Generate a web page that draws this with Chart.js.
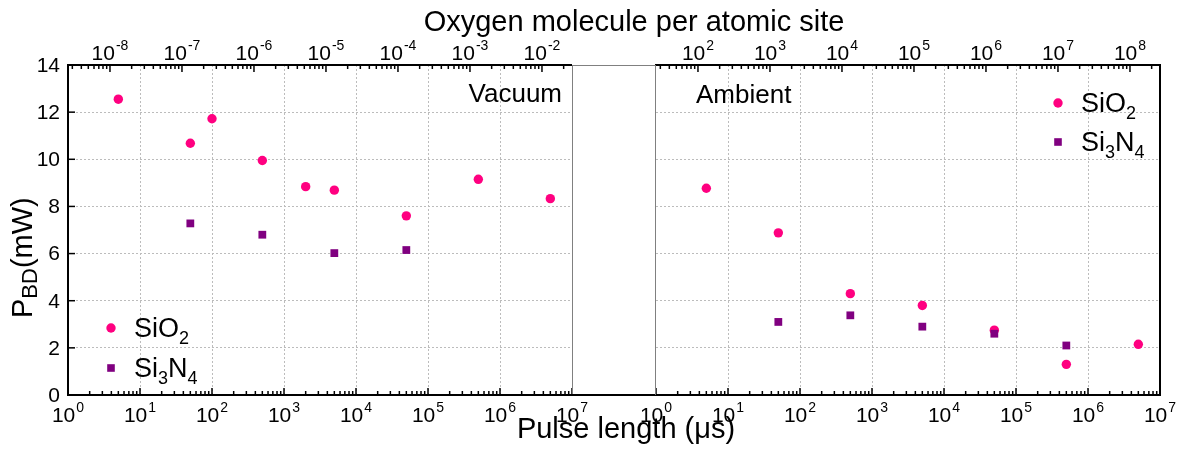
<!DOCTYPE html>
<html>
<head>
<meta charset="utf-8">
<title>Breakdown power vs pulse length</title>
<script src="https://cdn.jsdelivr.net/npm/chart.js@4.4.1/dist/chart.umd.min.js"></script>
<style>
  html, body { margin: 0; padding: 0; background: #fff; }
  #wrap { position: relative; width: 1182px; height: 449px; }
  #wrap canvas { position: absolute; left: 0; top: 0; }
</style>
</head>
<body>
<div id="wrap">
  <canvas id="vacuum" width="1182" height="449"></canvas>
  <canvas id="ambient" width="1182" height="449"></canvas>
</div>
<script>
// Data (pulse length in µs, breakdown power in mW)
const vacPulseSiO2 = [5, 50, 100, 500, 2000, 5000, 5e4, 5e5, 5e6];
const vacSiO2 = [12.55, 10.68, 11.72, 9.95, 8.84, 8.69, 7.6, 9.15, 8.33];
const vacPulseSi3N4 = [50, 500, 5000, 5e4];
const vacSi3N4 = [7.28, 6.8, 6.02, 6.15];

const ambPulseSiO2 = [5, 50, 500, 5000, 5e4, 5e5, 5e6];
const ambSiO2 = [8.77, 6.88, 4.3, 3.8, 2.75, 1.3, 2.15];
const ambPulseSi3N4 = [50, 500, 5000, 5e4, 5e5];
const ambSi3N4 = [3.1, 3.38, 2.9, 2.6, 2.1];

// Axes
const pulseExp = [0, 1, 2, 3, 4, 5, 6, 7];
const vacTopExp = [-8, -7, -6, -5, -4, -3, -2];
const ambTopExp = [2, 3, 4, 5, 6, 7, 8];
const vacTopRange = [-8.583, -1.583];   // log10 of oxygen axis ends
const ambTopRange = [1.417, 8.417];
const yTicks = [0, 2, 4, 6, 8, 10, 12, 14];

const FONT = '"Liberation Sans", Arial, sans-serif';
const PINK = '#ff0080';
const PURPLE = '#800080';
const GRID = '#bcbcbc';
const W = 1182, H = 449, TOP = 65, BOTTOM = 395;

// draw "10" with a raised exponent centred on x
function drawPow(ctx, x, base, exp) {
  const e = String(exp);
  ctx.font = '21px ' + FONT;
  const w1 = ctx.measureText('10').width;
  ctx.font = '14px ' + FONT;
  const w2 = ctx.measureText(e).width;
  const x0 = x - (w1 + w2 + 1) / 2;
  ctx.textAlign = 'left';
  ctx.textBaseline = 'alphabetic';
  ctx.font = '21px ' + FONT;
  ctx.fillText('10', x0, base);
  ctx.font = '14px ' + FONT;
  ctx.fillText(e, x0 + w1 + 1, base - 10);
}

// text with subscripts: parts = [[text, isSub], ...]
function drawRich(ctx, parts, x, base, size, subSize, subDrop) {
  ctx.textAlign = 'left';
  ctx.textBaseline = 'alphabetic';
  let cx = x;
  parts.forEach(([t, sub]) => {
    ctx.font = (sub ? subSize : size) + 'px ' + FONT;
    ctx.fillText(t, cx, sub ? base + subDrop : base);
    cx += ctx.measureText(t).width;
  });
}

function hline(ctx, x1, x2, y, color, width) {
  ctx.strokeStyle = color; ctx.lineWidth = width;
  ctx.beginPath(); ctx.moveTo(x1, y); ctx.lineTo(x2, y); ctx.stroke();
}
function vline(ctx, x, y1, y2, color, width) {
  ctx.strokeStyle = color; ctx.lineWidth = width;
  ctx.beginPath(); ctx.moveTo(x, y1); ctx.lineTo(x, y2); ctx.stroke();
}

// major + minor log ticks, pointing into the plot
function logTicks(ctx, scale, lo, hi, y, dir) {
  ctx.strokeStyle = '#000';
  ctx.lineWidth = 1.5;
  for (let k = Math.floor(lo); k <= Math.ceil(hi); k++) {
    for (let m = 1; m <= 9; m++) {
      const v = m * Math.pow(10, k);
      const lv = Math.log10(v);
      if (lv < lo - 1e-9 || lv > hi + 1e-9) continue;
      const px = scale.getPixelForValue(v);
      const len = m === 1 ? 7 : 4;
      ctx.beginPath(); ctx.moveTo(px, y); ctx.lineTo(px, y + dir * len); ctx.stroke();
    }
  }
}

function legend(ctx, x, y1, y2) {
  ctx.fillStyle = PINK;
  ctx.beginPath(); ctx.arc(x, y1, 4.7, 0, Math.PI * 2); ctx.fill();
  ctx.fillStyle = PURPLE;
  ctx.fillRect(x - 3.8, y2 - 3.8, 7.6, 7.6);
  ctx.fillStyle = '#000';
  drawRich(ctx, [['SiO', false], ['2', true]], x + 23, y1 + 9, 27, 18, 7);
  drawRich(ctx, [['Si', false], ['3', true], ['N', false], ['4', true]], x + 23, y2 + 9, 27, 18, 7);
}

function panelPlugin(name, topExp, topRange, isLeft) {
  return {
    id: 'panel_' + name,
    afterDraw(chart) {
      const ctx = chart.ctx;
      const a = chart.chartArea;
      const sx = chart.scales.x, st = chart.scales.x2, sy = chart.scales.y;
      ctx.save();

      // ticks
      logTicks(ctx, sx, 0, 7, a.bottom, -1);
      logTicks(ctx, st, topRange[0], topRange[1], a.top, 1);
      if (isLeft) {
        ctx.lineWidth = 1.5;
        yTicks.forEach(v => {
          const py = sy.getPixelForValue(v);
          ctx.beginPath(); ctx.moveTo(a.left, py); ctx.lineTo(a.left + 7, py); ctx.stroke();
        });
      }

      // frame
      hline(ctx, a.left - 1, a.right, a.top, '#000', 2);
      hline(ctx, a.left - 1, a.right, a.bottom, '#000', 2);
      if (isLeft) {
        vline(ctx, a.left, a.top, a.bottom + 1, '#000', 2);
        vline(ctx, a.right + 0.5, a.top, a.bottom, '#808080', 1);
      } else {
        vline(ctx, a.right, a.top - 1, a.bottom + 1, '#000', 2);
        vline(ctx, a.left - 0.5, a.top, a.bottom, '#808080', 1);
      }

      // tick labels
      ctx.fillStyle = '#000';
      pulseExp.forEach(k => drawPow(ctx, sx.getPixelForValue(Math.pow(10, k)), 422, k));
      topExp.forEach(k => drawPow(ctx, st.getPixelForValue(Math.pow(10, k)), 60, k));

      if (isLeft) {
        ctx.font = '21px ' + FONT;
        ctx.textAlign = 'right';
        ctx.textBaseline = 'middle';
        yTicks.forEach(v => ctx.fillText(String(v), 60, sy.getPixelForValue(v) + 1));

        // gap between the two panels
        hline(ctx, a.right, 656, a.top + 0.5, '#808080', 1);
        hline(ctx, a.right, 656, a.bottom, '#000', 2);

        // axis titles
        ctx.font = '29px ' + FONT;
        ctx.textAlign = 'center';
        ctx.textBaseline = 'alphabetic';
        ctx.fillText('Oxygen molecule per atomic site', 634, 31);
        ctx.fillText('Pulse length (\u03bcs)', 626, 438);

        ctx.save();
        ctx.translate(32, 318);
        ctx.rotate(-Math.PI / 2);
        drawRich(ctx, [['P', false], ['BD', true], ['(mW)', false]], 0, 0, 29, 22, 5);
        ctx.restore();

        ctx.font = '26px ' + FONT;
        ctx.textAlign = 'right';
        ctx.textBaseline = 'alphabetic';
        ctx.fillText('Vacuum', 562, 102);
        legend(ctx, 111, 328, 368);
      } else {
        ctx.font = '26px ' + FONT;
        ctx.textAlign = 'left';
        ctx.textBaseline = 'alphabetic';
        ctx.fillText('Ambient', 696, 103);
        legend(ctx, 1058, 103, 142);
      }
      ctx.restore();
    }
  };
}

function makePanel(id, left, right, pulseSiO2, valSiO2, pulseSiN, valSiN, topExp, topRange, isLeft) {
  const decades = pulseExp.slice(1, -1).map(k => ({ value: Math.pow(10, k) }));
  const yGrid = yTicks.slice(1, -1).map(v => ({ value: v }));
  return new Chart(document.getElementById(id), {
    type: 'scatter',
    data: {
      datasets: [
        {
          label: 'Si3N4',
          data: pulseSiN.map((p, i) => ({ x: p, y: valSiN[i] })),
          pointStyle: 'rect',
          pointRadius: 5.5,
          backgroundColor: PURPLE,
          borderColor: PURPLE,
          borderWidth: 0,
          xAxisID: 'x',
          yAxisID: 'y'
        },
        {
          label: 'SiO2',
          data: pulseSiO2.map((p, i) => ({ x: p, y: valSiO2[i] })),
          pointStyle: 'circle',
          pointRadius: 4.7,
          backgroundColor: PINK,
          borderColor: PINK,
          borderWidth: 0,
          xAxisID: 'x',
          yAxisID: 'y'
        }
      ]
    },
    options: {
      responsive: false,
      animation: false,
      devicePixelRatio: 1,
      layout: { padding: { left: left, right: W - right, top: TOP, bottom: H - BOTTOM } },
      plugins: { legend: { display: false }, tooltip: { enabled: false } },
      scales: {
        x: {
          type: 'logarithmic',
          position: 'bottom',
          min: 1,
          max: 1e7,
          ticks: { display: false },
          grid: { color: GRID, lineWidth: 1, drawTicks: false },
          border: { display: false, dash: [2, 2] },
          afterBuildTicks: s => { s.ticks = decades; },
          afterFit: s => { s.height = 0; }
        },
        x2: {
          type: 'logarithmic',
          position: 'top',
          min: Math.pow(10, topRange[0]),
          max: Math.pow(10, topRange[1]),
          ticks: { display: false },
          grid: { display: false, drawTicks: false },
          border: { display: false },
          afterFit: s => { s.height = 0; }
        },
        y: {
          type: 'linear',
          position: 'left',
          min: 0,
          max: 14,
          ticks: { display: false },
          grid: { color: GRID, lineWidth: 1, drawTicks: false },
          border: { display: false, dash: [2, 2] },
          afterBuildTicks: s => { s.ticks = yGrid; },
          afterFit: s => { s.width = 0; }
        }
      }
    },
    plugins: [panelPlugin(id, topExp, topRange, isLeft)]
  });
}

makePanel('vacuum', 68, 572, vacPulseSiO2, vacSiO2, vacPulseSi3N4, vacSi3N4, vacTopExp, vacTopRange, true);
makePanel('ambient', 656, 1160, ambPulseSiO2, ambSiO2, ambPulseSi3N4, ambSi3N4, ambTopExp, ambTopRange, false);
</script>
</body>
</html>
